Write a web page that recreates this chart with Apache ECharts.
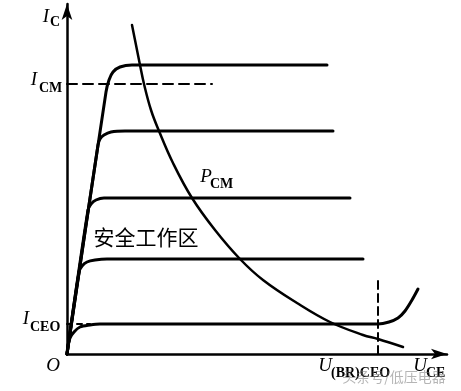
<!DOCTYPE html>
<html>
<head>
<meta charset="utf-8">
<script src="https://cdn.jsdelivr.net/npm/echarts@6/dist/echarts.min.js"></script>
<style>html,body{margin:0;padding:0;background:#fff;}#c{width:461px;height:391px;}</style>
</head>
<body>
<div id="c"></div>
<script>
// Values: [U_CE, I_C] in arbitrary units
const curve1 = [[0,0],[3.9,26.2],[4.2,27.4],[4.6,28.2],[5.3,28.7],[6.5,28.9],[26.0,28.9]];
const curve2 = [[0,0],[3.1,20.9],[3.3,21.5],[3.7,21.9],[4.4,22.2],[5.8,22.3],[26.6,22.3]];
const curve3 = [[0,0],[2.1,14.4],[2.4,15.0],[2.9,15.4],[3.7,15.6],[5.0,15.6],[28.3,15.6]];
const curve4 = [[0,0],[1.2,8.2],[1.5,8.8],[2.0,9.2],[2.8,9.4],[4.0,9.5],[29.6,9.5]];
const curveCEO = [[0,0],[0.1,0.9],[0.3,1.6],[0.7,2.2],[1.3,2.7],[2.3,2.9],[3.3,3.0],[31.1,3.0],[32.2,3.2],[33.1,3.6],[33.8,4.3],[34.5,5.4],[35.1,6.5]];
const pcmCurve = [[6.5,32.9],[6.9,30.9],[7.3,28.9],[7.7,27.0],[8.4,24.4],[9.2,22.3],[10.6,19.1],[12.5,15.6],[14.8,12.4],[17.3,9.5],[19.6,7.4],[23.0,5.1],[26.3,3.2],[29.6,1.9],[31.1,1.5],[33.6,0.7]];
const icmLine = [[0,27.0],[14.5,27.0]];
const iceoLine = [[0,3.0],[2.3,3.0]];
const ubrLine = [[31.1,0],[31.1,7.6]];
const axisRange = {xMax:38, yMax:35};
const labelTexts = [
  ['I','C'], ['I','CM'], ['I','CEO'], ['O',''], ['P','CM'], ['U','(BR)CEO'], ['U','CE']
];
const regionText = '安全工作区';
const watermark = '头条号/低压电器';

// layout (pixel positions of text)
const labelPos = [
  [46,17,50,22], [34,80,39,88], [26,319,30,327], [53,366,0,0], [206,177,210,184], [325,366,331,373], [420,366,426,373]
];

const chart = echarts.init(document.getElementById('c'), null, {renderer:'canvas'});
const serif = '"Liberation Serif","DejaVu Serif",serif';
function lineSeries(data, width, dashed, smooth){
  return {type:'line', data:data, showSymbol:false, silent:true, clip:false,
    smooth:smooth, lineStyle:{color:'#000', width:width, type: dashed ? dashed : 'solid', cap:'round', join:'round'}};
}
const graphics = [];
labelTexts.forEach((t,i)=>{
  const p = labelPos[i];
  graphics.push({type:'text', x:p[0], y:p[1], style:{text:t[0], font:'italic 19px '+serif, fill:'#000',
    align:'center', verticalAlign:'middle', textAlign:'center', textVerticalAlign:'middle'}});
  if (t[1]) graphics.push({type:'text', x:p[2], y:p[3], style:{text:t[1], font:'bold 14px '+serif, fill:'#000',
    align:'left', verticalAlign:'middle', textAlign:'left', textVerticalAlign:'middle'}});
});
graphics.push({type:'text', x:146, y:237, style:{text:regionText, font:'21px "Noto Sans CJK SC"', fill:'#000',
  align:'center', verticalAlign:'middle', textAlign:'center', textVerticalAlign:'middle'}});
graphics.push({type:'text', x:394, y:377, style:{text:watermark, font:'14px "Noto Sans CJK SC"', fill:'rgba(120,120,120,0.55)',
  align:'center', verticalAlign:'middle', textAlign:'center', textVerticalAlign:'middle'}});

chart.setOption({
  animation:false,
  backgroundColor:'#fff',
  grid:{left:67, top:4, width:380, height:350},
  xAxis:{type:'value', min:0, max:axisRange.xMax, axisLine:{show:true, onZero:false, symbol:['none','arrow'], symbolSize:[8,16], lineStyle:{color:'#000', width:2.5}},
    axisTick:{show:false}, axisLabel:{show:false}, splitLine:{show:false}},
  yAxis:{type:'value', min:0, max:axisRange.yMax, axisLine:{show:true, onZero:false, symbol:['none','arrow'], symbolSize:[8,16], lineStyle:{color:'#000', width:2.5}},
    axisTick:{show:false}, axisLabel:{show:false}, splitLine:{show:false}},
  series:[
    lineSeries(curve1,3,null,0.3),
    lineSeries(curve2,3,null,0.3),
    lineSeries(curve3,3,null,0.3),
    lineSeries(curve4,3,null,0.3),
    lineSeries(curveCEO,3,null,0.3),
    lineSeries(pcmCurve,2.5,null,0.4),
    lineSeries(icmLine,2,[10,6],false),
    lineSeries(iceoLine,2,[5,5],false),
    lineSeries(ubrLine,2,[8,5],false)
  ],
  graphic:graphics
});
</script>
</body>
</html>
